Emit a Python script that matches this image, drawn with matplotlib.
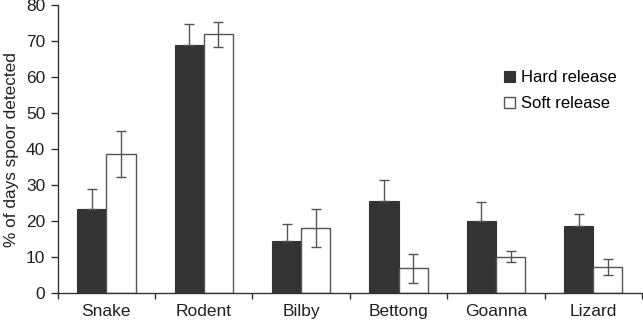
import numpy as np
import matplotlib.pyplot as plt
from matplotlib.ticker import FixedLocator

plt.rcParams['font.family'] = ['Liberation Sans', 'DejaVu Sans']

# ---- data ----
species = ['Snake', 'Rodent', 'Bilby', 'Bettong', 'Goanna', 'Lizard']
hard = [23.3, 69.1, 14.5, 25.5, 20.0, 18.5]
hard_err = [5.5, 5.7, 4.7, 5.8, 5.2, 3.3]
soft = [38.7, 72.0, 18.1, 6.8, 10.0, 7.1]
soft_err = [6.4, 3.5, 5.3, 4.1, 1.5, 2.2]
yticks = [0, 10, 20, 30, 40, 50, 60, 70, 80]

DARK = '#333333'
GREY = '#555555'
TXT = '#222222'

fig = plt.figure(figsize=(6.43, 3.20), dpi=100)
ax = fig.add_axes([0.0897, 0.0853, 0.9087, 0.8977])

x = np.arange(len(species))
w = 0.3
ekw = dict(ecolor=GREY, elinewidth=1.0, capsize=3.6, capthick=1.0)

ax.bar(x - w / 2, hard, w, color=DARK, edgecolor=DARK, linewidth=0.8,
       label='Hard release', zorder=2,
       yerr=[np.zeros(len(hard)), hard_err], error_kw=ekw)
ax.bar(x + w / 2, soft, w, color='white', edgecolor=GREY, linewidth=1.0,
       label='Soft release', zorder=2,
       yerr=soft_err, error_kw=ekw)

ax.set_xlim(-0.5, len(species) - 0.5)
ax.set_ylim(0, 80)
ax.set_yticks(yticks)
ax.set_xticks(x)
ax.set_xticklabels(species)
ax.xaxis.set_minor_locator(FixedLocator(np.arange(-0.5, len(species), 1.0)))
ax.tick_params(axis='x', which='major', length=0, pad=8, labelsize=12.5, colors=TXT)
ax.tick_params(axis='x', which='minor', length=4, width=1.0, color=DARK, direction='out')
ax.tick_params(axis='y', length=5, width=1.0, color=DARK, labelsize=12.5,
               labelcolor=TXT, pad=4)

for s in ['top', 'right']:
    ax.spines[s].set_visible(False)
for s in ['left', 'bottom']:
    ax.spines[s].set_color(DARK)
    ax.spines[s].set_linewidth(1.0)

ax.set_ylabel('% of days spoor detected', fontsize=12.4, color=TXT, labelpad=5)

ax.legend(loc='upper left', bbox_to_anchor=(0.7527, 0.797), frameon=False,
          fontsize=12, handlelength=0.66, handleheight=0.66, handletextpad=0.35,
          labelspacing=0.65, borderaxespad=0)

fig.savefig('out.png', dpi=100)
